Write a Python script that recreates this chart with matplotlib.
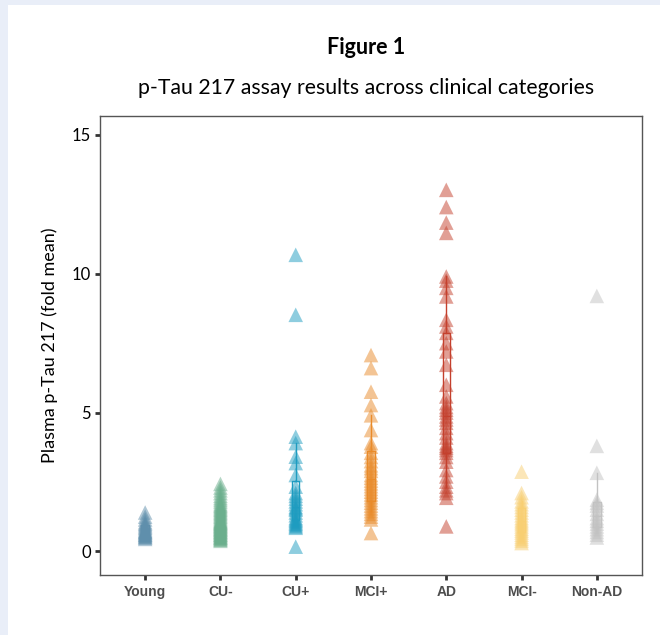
import matplotlib
matplotlib.use("Agg")
import matplotlib.pyplot as plt
from matplotlib.patches import Rectangle
import numpy as np

# categories and colours
groups = ["Young", "CU-", "CU+", "MCI+", "AD", "MCI-", "Non-AD"]
colors = ["#5F8FAC", "#6BAF8D", "#1E9CC0", "#E98B2A", "#C4402D", "#F8CF72", "#C2C2C2"]

# values (fold mean)
young = [0.45, 0.5, 0.52, 0.55, 0.58, 0.6, 0.62, 0.65, 0.68, 0.7, 0.72, 0.75,
         0.8, 0.85, 0.9, 0.95, 1.0, 1.05, 1.15, 1.25, 1.4]
cu_neg = [0.38, 0.42, 0.45, 0.48, 0.5, 0.52, 0.55, 0.58, 0.6, 0.62, 0.65, 0.68,
          0.7, 0.72, 0.75, 0.78, 0.8, 0.82, 0.85, 0.88, 0.9, 0.93, 0.95, 0.98,
          1.0, 1.03, 1.05, 1.08, 1.1, 1.15, 1.2, 1.25, 1.3, 1.35, 1.4, 1.45,
          1.5, 1.55, 1.6, 1.65, 1.7, 1.78, 1.85, 1.92, 2.0, 2.1, 2.2, 2.3, 2.43]
cu_pos = [0.17, 0.85, 0.9, 0.95, 1.0, 1.05, 1.1, 1.15, 1.2, 1.3, 1.4, 1.5,
          1.55, 1.6, 1.7, 1.8, 1.9, 2.0, 2.1, 2.33, 2.75, 3.18, 3.41, 3.9,
          4.13, 8.52, 10.68]
mci_pos = [0.66, 1.15, 1.25, 1.35, 1.45, 1.55, 1.65, 1.75, 1.85, 1.95, 2.05,
           2.15, 2.25, 2.35, 2.45, 2.55, 2.65, 2.75, 2.9, 3.0, 3.1, 3.25, 3.4,
           3.55, 3.77, 3.9, 4.37, 4.9, 5.27, 5.75, 6.6, 7.07]
ad = [0.9, 1.93, 2.1, 2.2, 2.33, 2.51, 2.7, 2.93, 3.23, 3.4, 3.55, 3.65, 3.73,
      3.8, 3.9, 4.1, 4.26, 4.45, 4.63, 4.75, 4.86, 5.0, 5.1, 5.2, 5.34, 5.58,
      6.0, 6.72, 7.2, 7.5, 7.87, 8.1, 8.34, 9.18, 9.49, 9.75, 9.9, 11.47,
      11.84, 12.4, 13.02]
mci_neg = [0.3, 0.38, 0.45, 0.52, 0.6, 0.68, 0.75, 0.82, 0.9, 0.98, 1.05, 1.12,
           1.2, 1.3, 1.4, 1.5, 1.6, 1.7, 1.8, 1.95, 2.1, 2.87]
non_ad = [0.5, 0.6, 0.7, 0.8, 0.9, 1.0, 1.1, 1.2, 1.35, 1.5, 1.65, 1.75, 1.86,
          2.83, 3.8, 9.2]

values = [young, cu_neg, cu_pos, mci_pos, ad, mci_neg, non_ad]

fig = plt.figure(figsize=(6.6, 6.35), dpi=100, facecolor="#E9EEF8")
bg = Rectangle((8 / 660, 0), 1, 1 - 5 / 635, transform=fig.transFigure,
               facecolor="white", edgecolor="none", zorder=-10)
fig.add_artist(bg)

ax = fig.add_axes([100 / 660, 60 / 635, 542 / 660, 459 / 635])

pos = np.arange(1, len(groups) + 1)
for i, (v, c) in enumerate(zip(values, colors)):
    ax.scatter(np.full(len(v), pos[i]), v, marker="^", s=110, color=c,
               alpha=0.5, edgecolors="none", zorder=2)
    ax.boxplot([v], positions=[pos[i]], widths=0.1, whis=(10, 90),
               showfliers=False, manage_ticks=False, patch_artist=False,
               boxprops=dict(color=c, lw=1),
               whiskerprops=dict(color=c, lw=1),
               capprops=dict(color=c, lw=0),
               medianprops=dict(color=c, lw=1),
               zorder=3)

ax.set_xlim(0.4, 7.6)
ax.set_ylim(-0.85, 15.68)
ax.set_xticks(pos)
ax.set_xticklabels(groups, fontfamily="Liberation Sans", fontweight="bold",
                   fontsize=10, color="#4D4D4D")
ax.set_yticks([0, 5, 10, 15])
ax.set_yticklabels(["0", "5", "10", "15"], fontfamily="Lato", fontsize=12)
ax.tick_params(axis="both", length=3.5, width=2, color="#333333")
ax.tick_params(axis="x", pad=4)
ax.tick_params(axis="y", pad=3)
for s in ax.spines.values():
    s.set_color("#555555")
    s.set_linewidth(1)

ax.set_ylabel("Plasma p-Tau 217 (fold mean)", fontfamily="Lato", fontsize=13,
              labelpad=10)

fig.text(366 / 660, 1 - 47 / 635, "Figure 1", ha="center", va="center",
         fontfamily="Lato", fontweight="bold", fontsize=15.5)
fig.text(366 / 660, 1 - 88 / 635, "p-Tau 217 assay results across clinical categories",
         ha="center", va="center", fontfamily="Lato", fontsize=15.3)

fig.savefig("out.png", dpi=100, facecolor=fig.get_facecolor())
